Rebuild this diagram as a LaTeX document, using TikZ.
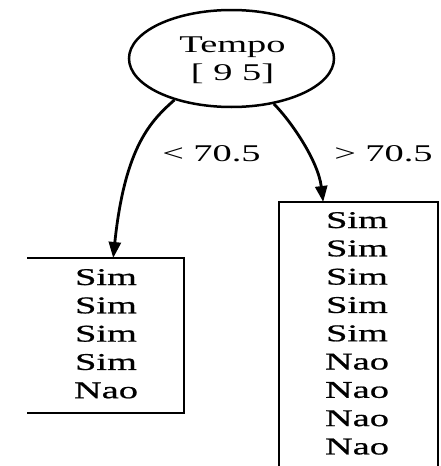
\documentclass[tikz,border=0pt]{standalone}
\usepackage{fontspec}
\setmainfont{Liberation Serif}[FakeStretch=1.6]
\newfontfamily\leaffont{Liberation Serif}[FakeStretch=1.6,FakeBold=0.8]
\usetikzlibrary{shapes.geometric,arrows.meta}
\begin{document}
\begin{tikzpicture}[x=1pt,y=-1pt,
  txt/.style={font=\fontsize{24}{28}\selectfont, inner sep=0pt, anchor=base},
  leaf/.style={font=\leaffont\fontsize{24}{28}\selectfont, inner sep=0pt, anchor=base},
  box/.style={minimum width=#1, inner sep=0pt, anchor=north west},
  edge/.style={line width=1.9pt},
  conn/.style={line width=2.8pt, -{Triangle[length=16pt,width=12pt]}}]
\useasboundingbox (0,0) rectangle (441,466);
% root
\node[ellipse, draw, line width=2.5pt, minimum width=205pt, minimum height=97pt, inner sep=0pt] (root) at (231.5,58.5) {};
\node[txt] (t1) at (232.5,52) {Tempo};
\node[txt] (t2) at (232.5,80) {[ 9 5]};
% left leaf
\node[box=157pt, minimum height=155pt] (left) at (27,258) {};
\draw[edge] (left.north west) -- (left.north east) -- (left.south east) -- (left.south west);
\foreach \w [count=\i] in {Sim,Sim,Sim,Sim,Nao}
  \node[leaf] (l\i) at (106,{285+28.3*(\i-1)}) {\w};
% right leaf
\node[box=159pt, minimum height=280pt] (right) at (279,202) {};
\draw[edge] (right.south west) -- (right.north west) -- (right.north east) -- (right.south east);
\foreach \w [count=\i] in {Sim,Sim,Sim,Sim,Sim,Nao,Nao,Nao,Nao}
  \node[leaf] (r\i) at (357,{228+28.3*(\i-1)}) {\w};
% connectors
\draw[conn] (root.216) .. controls (152,120) and (125,145) .. ([xshift=7.5pt]left.north);
\draw[conn] (root.313) .. controls (290,120) and (318,160) .. ([xshift=-35.5pt]right.north);
\node[txt] (lab1) at (211.5,161) {< 70.5};
\node[txt] (lab2) at (383.5,161) {> 70.5};
\end{tikzpicture}
\end{document}
